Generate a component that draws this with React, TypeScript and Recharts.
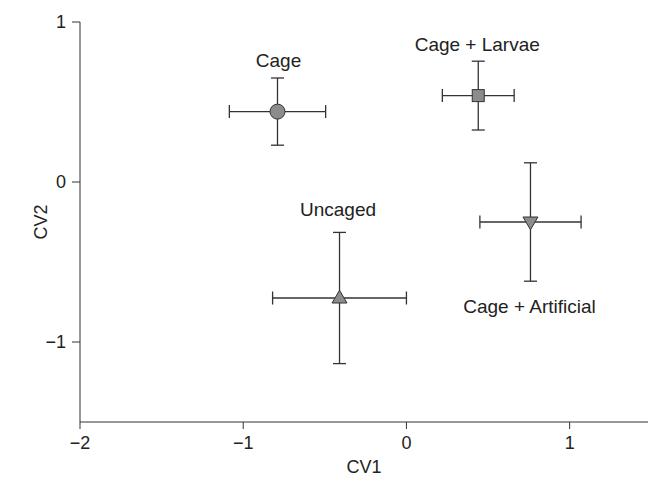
import { ScatterChart, Scatter, XAxis, YAxis, ErrorBar } from 'recharts';

const groups = ['Cage', 'Cage + Larvae', 'Uncaged', 'Cage + Artificial'];
const markers = ['circle', 'square', 'triangle', 'triangleDown'];
const cv1 = [-0.79, 0.44, -0.41, 0.76];
const cv2 = [0.44, 0.54, -0.725, -0.25];
const cv1Err = [0.295, 0.22, 0.41, 0.31];
const cv2Err = [0.21, 0.215, 0.41, 0.37];
const xTicks = [-2, -1, 0, 1];
const yTicks = [-1, 0, 1];

// label placement relative to the marker (px)
const LABEL_OFFSETS: Record<string, [number, number]> = {
  'Cage': [1, -45],
  'Cage + Larvae': [-1, -45],
  'Uncaged': [-1.5, -82],
  'Cage + Artificial': [-1, 91],
};

const FONT = '"Liberation Sans", Arial, Helvetica, sans-serif';
const INK = '#333';
const FILL = '#8c8c8c';

const data = groups.map((name, i) => ({
  name,
  marker: markers[i],
  x: cv1[i],
  y: cv2[i],
  ex: cv1Err[i],
  ey: cv2Err[i],
}));

const fmt = (v: number) => (v < 0 ? '\u2212' + Math.abs(v) : String(v));

function Marker(props: any) {
  const { cx, cy, payload } = props;
  const [dx, dy] = LABEL_OFFSETS[payload.name] ?? [0, -40];
  let sym;
  if (payload.marker === 'circle') {
    sym = <circle cx={cx} cy={cy} r={7.5} fill={FILL} stroke={INK} strokeWidth={1} />;
  } else if (payload.marker === 'square') {
    sym = <rect x={cx - 6} y={cy - 6} width={12} height={12} fill={FILL} stroke={INK} strokeWidth={1} />;
  } else if (payload.marker === 'triangle') {
    sym = <polygon points={`${cx},${cy - 7.7} ${cx - 7.5},${cy + 5} ${cx + 7.5},${cy + 5}`} fill={FILL} stroke={INK} strokeWidth={1} />;
  } else {
    sym = <polygon points={`${cx},${cy + 7.7} ${cx - 7.5},${cy - 5} ${cx + 7.5},${cy - 5}`} fill={FILL} stroke={INK} strokeWidth={1} />;
  }
  return (
    <g>
      {sym}
      <text x={cx + dx} y={cy + dy} textAnchor="middle" fontSize={19} fontFamily={FONT} fill="#222">
        {payload.name}
      </text>
    </g>
  );
}

const YLabel = (props: any) => {
  const { viewBox } = props;
  const cy = viewBox.y + viewBox.height / 2;
  return (
    <text x={41} y={cy} transform={`rotate(-90, 41, ${cy})`} textAnchor="middle" dominantBaseline="central"
      fontSize={18} fontFamily={FONT} fill="#222">CV2</text>
  );
};

export default function App() {
  return (
    <div style={{ position: 'absolute', left: 0, top: 0, width: 648, height: 477 }}>
      <ScatterChart width={648} height={477} margin={{ top: 22, right: 0, bottom: 0, left: 0 }}
        style={{ fontFamily: FONT }}>
        <XAxis type="number" dataKey="x" domain={[-2, 1.48]} ticks={xTicks} allowDataOverflow
          tickFormatter={fmt} height={55} tickSize={7} tickMargin={7}
          axisLine={{ stroke: INK }} tickLine={{ stroke: INK }}
          tick={{ fontSize: 18, fill: '#222' }}
          label={{ value: 'CV1', position: 'insideBottom', offset: 4, fontSize: 18, fill: '#222' }} />
        <YAxis type="number" dataKey="y" domain={[-1.5, 1]} ticks={yTicks} allowDataOverflow
          tickFormatter={fmt} width={80} tickSize={8} tickMargin={6}
          axisLine={{ stroke: INK }} tickLine={{ stroke: INK }}
          tick={{ fontSize: 18, fill: '#222' }}
          label={<YLabel />} />
        <Scatter data={data} shape={(p: any) => <Marker {...p} />} isAnimationActive={false}>
          <ErrorBar dataKey="ex" direction="x" width={6.5} stroke={INK} strokeWidth={1.3} isAnimationActive={false} />
          <ErrorBar dataKey="ey" direction="y" width={6.5} stroke={INK} strokeWidth={1.3} isAnimationActive={false} />
        </Scatter>
      </ScatterChart>
    </div>
  );
}
